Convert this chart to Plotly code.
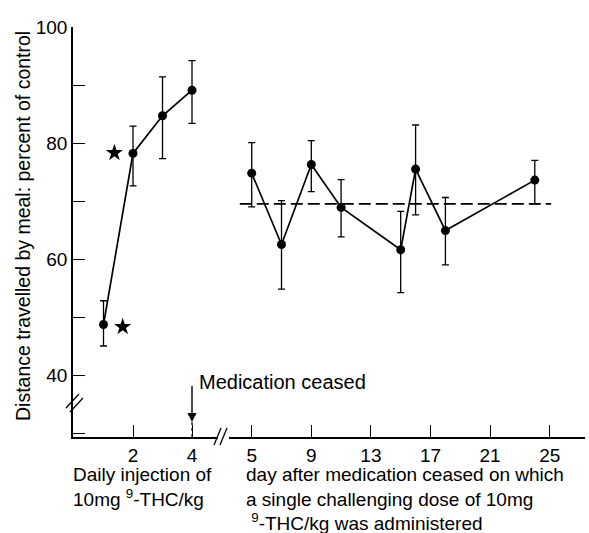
import plotly.graph_objects as go

# ---- data ----
days_med = [1, 2, 3, 4]
val_med = [48.7, 78.2, 84.7, 89.1]
err_med_plus = [4.1, 4.7, 6.7, 5.1]
err_med_minus = [3.7, 5.6, 7.4, 5.7]

days_after = [5, 7, 9, 11, 15, 16, 18, 24]
val_after = [74.8, 62.5, 76.3, 68.9, 61.6, 75.5, 64.9, 73.6]
err_after_plus = [5.25, 7.55, 4.1, 4.8, 6.6, 7.6, 5.7, 3.4]
err_after_minus = [5.8, 7.7, 4.7, 5.1, 7.4, 7.9, 5.9, 4.1]

control_x = [4.2, 25.1]
control_y = [69.5, 69.5]

star_x = [1.37, 1.65]
star_y = [78.3, 48.3]

y_ticks = [40, 60, 80, 100]
x1_ticks = [2, 4]
x2_ticks = [5, 9, 13, 17, 21, 25]

W, H = 589, 533
L, R, T, B = 73, 4, 27, 96
PW, PH = W - L - R, H - T - B

def px(x):
    return (x - L) / PW

def py(y):
    return (H - B - y) / PH

FONT = "Liberation Sans, Arial, sans-serif"
FS = 20
TFS = 19

fig = go.Figure()

line_style = dict(color="black", width=1.7)
err_style = dict(color="black", thickness=1.3, width=3.5)

fig.add_trace(go.Scatter(
    x=days_med, y=val_med, mode="lines+markers",
    line=line_style, marker=dict(color="black", size=9),
    error_y=dict(type="data", symmetric=False, array=err_med_plus,
                 arrayminus=err_med_minus, **err_style),
    xaxis="x", yaxis="y", showlegend=False))

fig.add_trace(go.Scatter(
    x=star_x, y=star_y, mode="markers",
    marker=dict(symbol="star", color="black", size=13),
    xaxis="x", yaxis="y", showlegend=False))

fig.add_trace(go.Scatter(
    x=control_x, y=control_y, mode="lines",
    line=dict(color="black", width=1.7, dash="12px,5px"),
    xaxis="x2", yaxis="y", showlegend=False))

fig.add_trace(go.Scatter(
    x=days_after, y=val_after, mode="lines+markers",
    line=line_style, marker=dict(color="black", size=9),
    error_y=dict(type="data", symmetric=False, array=err_after_plus,
                 arrayminus=err_after_minus, **err_style),
    xaxis="x2", yaxis="y", showlegend=False))

axis_common = dict(showline=True, linecolor="black", linewidth=1.7,
                   ticks="inside", ticklen=12, tickwidth=1.3, tickcolor="black",
                   showgrid=False, zeroline=False,
                   tickfont=dict(family=FONT, size=TFS, color="black"))

y_low = 40 - (437 - 375) / 5.8

fig.update_layout(
    width=W, height=H,
    margin=dict(l=L, r=R, t=T, b=B),
    paper_bgcolor="white", plot_bgcolor="white",
    xaxis=dict(domain=[0, px(218)], range=[-1 / 29.5, (218 - 74) / 29.5],
               tickvals=x1_ticks, anchor="y", **axis_common),
    xaxis2=dict(domain=[px(229), 1], range=[5 - (251.7 - 229) / 14.9, 5 + (585 - 251.7) / 14.9],
                tickvals=x2_ticks, anchor="y", **axis_common),
    yaxis=dict(range=[y_low, 100], tickvals=y_ticks, anchor="x",
               minor=dict(tick0=0, dtick=10, ticks="inside", ticklen=12,
                          tickwidth=1.3, tickcolor="black", showgrid=False),
               **axis_common),
)

# arrow "Medication ceased"
y_of = lambda pix: 100 - (pix - 27) / 5.8
fig.add_annotation(x=4, y=y_of(422), ax=4, ay=y_of(376), xref="x", yref="y",
                   axref="x", ayref="y", showarrow=True, arrowhead=2,
                   arrowsize=1.3, arrowwidth=1.4, arrowcolor="black", text=" ")
fig.add_shape(type="line", xref="x", yref="y", x0=4, x1=4, y0=y_low, y1=y_of(422),
              line=dict(color="black", width=1.2, dash="dot"))
fig.add_annotation(x=4, y=y_of(382), xref="x", yref="y", xshift=5,
                   text="Medication ceased", showarrow=False,
                   xanchor="left", yanchor="middle",
                   font=dict(family=FONT, size=FS, color="black"))

# y title
fig.add_annotation(x=px(23), y=py(226), xref="paper", yref="paper",
                   text="Distance travelled by meal: percent of control",
                   textangle=-90, showarrow=False, xanchor="center", yanchor="middle",
                   font=dict(family=FONT, size=19.5, color="black"))

# bottom texts (multi-line blocks)
def block(text, xpix, ypix_top, size):
    fig.add_annotation(x=px(xpix), y=py(ypix_top), xref="paper", yref="paper",
                       text=text, showarrow=False, xanchor="left", yanchor="top",
                       align="left", borderpad=0,
                       font=dict(family=FONT, size=size, color="black"))

block("Daily injection of<br>10mg <sup>9</sup>-THC/kg", 72, 463, 19)
block("day after medication ceased on which<br>a single challenging dose of 10mg<br>"
      "&nbsp;<sup>9</sup>-THC/kg was administered", 245, 463, 19)

# axis breaks
def slash(x0, y0, x1, y1):
    fig.add_shape(type="line", xref="paper", yref="paper",
                  x0=px(x0), y0=py(y0), x1=px(x1), y1=py(y1),
                  line=dict(color="black", width=1.3))

slash(66, 408, 79, 394)
slash(70, 412, 83, 398)
slash(214, 445, 221, 428)
slash(220, 445, 227, 428)

fig.write_html("out.html")
